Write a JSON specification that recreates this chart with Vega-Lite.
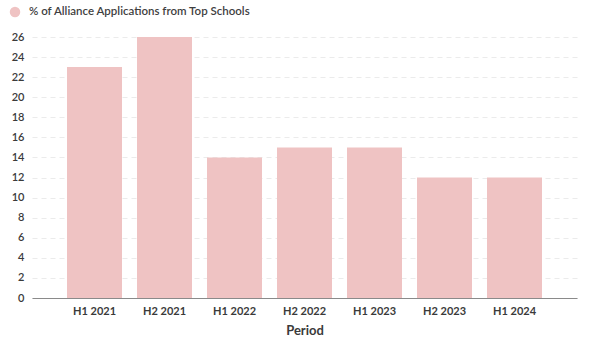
{
  "$schema": "https://vega.github.io/schema/vega-lite/v6.json",
  "autosize": "none",
  "width": 545,
  "height": 261,
  "padding": {"left": 32, "top": 37, "right": 23, "bottom": 48},
  "background": "white",
  "config": {
    "font": "Lato",
    "view": {"stroke": null}
  },
  "data": {
    "values": [
      {"Period": "H1 2021", "value": 23},
      {"Period": "H2 2021", "value": 26},
      {"Period": "H1 2022", "value": 14},
      {"Period": "H2 2022", "value": 15},
      {"Period": "H1 2023", "value": 15},
      {"Period": "H2 2023", "value": 12},
      {"Period": "H1 2024", "value": 12}
    ]
  },
  "mark": {"type": "bar", "color": "#efc3c3"},
  "encoding": {
    "x": {
      "field": "Period",
      "type": "nominal",
      "sort": null,
      "scale": {"paddingInner": 0.2143, "paddingOuter": 0.5},
      "axis": {
        "title": "Period",
        "labelAngle": 0,
        "labelFont": "Lato",
        "labelFontWeight": "bold",
        "labelFontSize": 11,
        "labelColor": "#3a3a3a",
        "labelPadding": 7,
        "ticks": false,
        "domainColor": "#8a8a8a",
        "titleFont": "Lato",
        "titleFontWeight": "bold",
        "titleFontSize": 13,
        "titleColor": "#3a3a3a",
        "titlePadding": 8
      }
    },
    "y": {
      "field": "value",
      "type": "quantitative",
      "scale": {"domain": [0, 26], "nice": false},
      "axis": {
        "title": null,
        "values": [0, 2, 4, 6, 8, 10, 12, 14, 16, 18, 20, 22, 24, 26],
        "domain": false,
        "ticks": false,
        "labelFont": "Lato",
        "labelFontSize": 11,
        "labelFontWeight": 600,
        "labelColor": "#3a3a3a",
        "labelPadding": 8,
        "gridColor": "#ebebeb",
        "gridDash": [5, 4]
      }
    },
    "color": {
      "datum": "% of Alliance Applications from Top Schools",
      "type": "nominal",
      "scale": {"range": ["#efc3c3"]},
      "legend": {
        "title": null,
        "orient": "none",
        "legendX": -23,
        "legendY": -31,
        "symbolType": "circle",
        "symbolSize": 110,
        "labelFont": "Lato",
        "labelFontSize": 11.5,
        "labelFontWeight": 600,
        "labelColor": "#3f3f3f",
        "labelOffset": 8,
        "labelLimit": 0
      }
    }
  }
}
